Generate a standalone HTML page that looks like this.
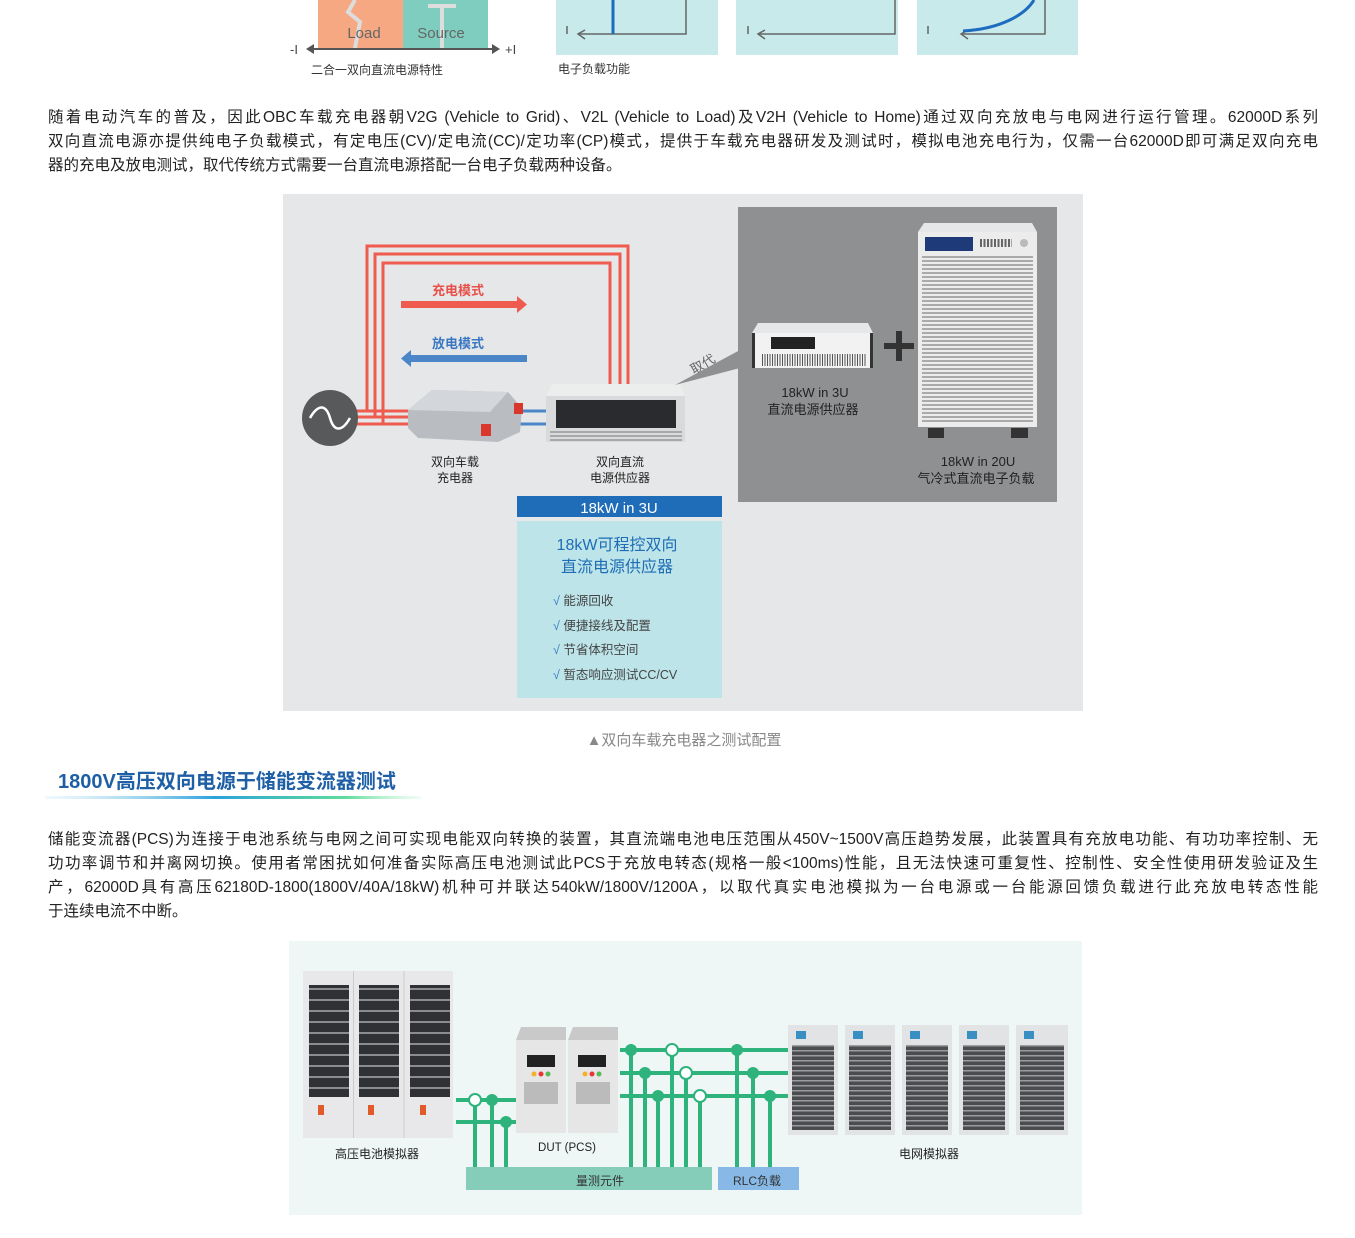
<!DOCTYPE html>
<html><head><meta charset="utf-8"><style>
body{margin:0;width:1355px;height:1238px;background:#fff;position:relative;overflow:hidden;font-family:"Liberation Sans","Noto Sans CJK SC",sans-serif;}
.a{position:absolute;}
.ln{position:absolute;left:48px;width:1270px;font-size:15.5px;color:#222;text-align:justify;text-align-last:justify;white-space:nowrap;line-height:24px;}
.ln.l{text-align-last:left;}
svg text{font-family:"Liberation Sans","Noto Sans CJK SC",sans-serif;}
</style></head><body>
<svg class="a" style="left:0;top:0" width="1355" height="1238">
<defs>
<pattern id="hs" width="4" height="4" patternUnits="userSpaceOnUse"><rect width="4" height="2" fill="#aaa"/></pattern>
<pattern id="hs2" width="5" height="5" patternUnits="userSpaceOnUse"><rect width="5" height="5" fill="#4a4c50"/><rect width="5" height="1.5" fill="#9a9c9f"/></pattern>
<pattern id="bat" width="10" height="11" patternUnits="userSpaceOnUse"><rect width="10" height="11" fill="#2f3135"/><rect y="9" width="10" height="2" fill="#8a8c90"/></pattern>
<linearGradient id="g" x1="0" x2="1"><stop offset="0" stop-color="#cfe9f7" stop-opacity="0.3"/><stop offset="0.45" stop-color="#2aa3dc"/><stop offset="0.8" stop-color="#5fdc9a"/><stop offset="1" stop-color="#c8f5d8" stop-opacity="0.3"/></linearGradient>
</defs>
<rect x="318" y="0" width="85" height="48" fill="#f6a882"/>
<rect x="403" y="0" width="85" height="48" fill="#7fcdbf"/>
<polyline points="355,0 348,12 360,22 355,48" fill="none" stroke="#ddd" stroke-width="4"/>
<line x1="428" y1="6" x2="456" y2="6" stroke="#ddd" stroke-width="4"/>
<line x1="442" y1="6" x2="442" y2="48" stroke="#ddd" stroke-width="4"/>
<text x="364" y="38" font-size="15" fill="#666" text-anchor="middle">Load</text>
<text x="441" y="38" font-size="15" fill="#666" text-anchor="middle">Source</text>
<line x1="308" y1="49" x2="496" y2="49" stroke="#555" stroke-width="2"/>
<path d="M306,49 l8,-5 v10z M500,49 l-8,-5 v10z" fill="#555"/>
<text x="290" y="54" font-size="13" fill="#444" font-family="Liberation Serif">-I</text>
<text x="505" y="54" font-size="13" fill="#444" font-family="Liberation Serif">+I</text>
<text x="311" y="74" font-size="12" fill="#333">二合一双向直流电源特性</text>
<rect x="556" y="0" width="162" height="55" fill="#c8eaea"/>
<rect x="736" y="0" width="162" height="55" fill="#c8eaea"/>
<rect x="917" y="0" width="161" height="55" fill="#c8eaea"/>
<g fill="none" stroke="#666" stroke-width="1.5">
<polyline points="578,34 686,34 686,0"/><polyline points="585,30 578,34 585,39"/><line x1="567" y1="26" x2="567" y2="34"/>
<polyline points="758,34 895,34 895,0"/><polyline points="765,30 758,34 765,39"/><line x1="748" y1="26" x2="748" y2="34"/>
<polyline points="961,34 1045,34 1045,0"/><polyline points="968,30 961,34 968,39"/><line x1="928" y1="26" x2="928" y2="34"/>
</g>
<line x1="613" y1="0" x2="613" y2="34" stroke="#1e6cc0" stroke-width="3"/>
<path d="M963,31 C1000,29 1025,15 1034,0" fill="none" stroke="#1e6cc0" stroke-width="3"/>
<text x="558" y="73" font-size="12" fill="#333">电子负载功能</text>

<rect x="283" y="194" width="800" height="517" fill="#e6e7e8"/>
<rect x="738" y="207" width="319" height="295" fill="#8f9092"/>
<g fill="none" stroke="#ef5b4f" stroke-width="3">
<polyline points="358,411 367,411 367,246 628,246 628,386"/>
<polyline points="358,417 375,417 375,254 620,254 620,386"/>
<polyline points="358,424 383,424 383,263 610,263 610,386"/>
<line x1="355" y1="411" x2="410" y2="411"/><line x1="355" y1="417" x2="410" y2="417"/><line x1="355" y1="424" x2="410" y2="424"/>
</g>
<line x1="515" y1="411" x2="548" y2="411" stroke="#4a86c8" stroke-width="3"/>
<line x1="515" y1="424" x2="548" y2="424" stroke="#4a86c8" stroke-width="3"/>
<circle cx="330" cy="418" r="28" fill="#58595b"/>
<path d="M310,418 C318,404 326,404 330,418 C334,432 342,432 350,418" fill="none" stroke="#fff" stroke-width="2.5"/>
<text x="458" y="295" font-size="13" fill="#e8504a" text-anchor="middle" font-weight="bold">充电模式</text>
<rect x="401" y="301" width="118" height="7" fill="#ef5b4f"/><path d="M517,296 l10,8.5 l-10,8.5z" fill="#ef5b4f"/>
<text x="458" y="348" font-size="13" fill="#3a78c2" text-anchor="middle" font-weight="bold">放电模式</text>
<rect x="410" y="355" width="117" height="7" fill="#4a86c8"/><path d="M411,350 l-10,8.5 l10,8.5z" fill="#4a86c8"/>
<path d="M408,410 L432,390 L508,392 L522,408 L520,432 L498,442 L418,438 L408,428z" fill="#b9bdc2"/>
<path d="M408,410 L432,390 L508,392 L490,412z" fill="#d3d6da"/>
<rect x="514" y="403" width="9" height="11" fill="#d9372c"/><rect x="481" y="424" width="10" height="12" fill="#d9372c"/>
<path d="M552,384 L680,384 L685,396 L546,396z" fill="#eceded"/>
<rect x="546" y="396" width="139" height="46" fill="#d9dadb"/>
<rect x="556" y="400" width="120" height="28" fill="#2a2b2e"/>
<g stroke="#777" stroke-width="1"><line x1="550" y1="432" x2="682" y2="432"/><line x1="550" y1="436" x2="682" y2="436"/><line x1="550" y1="440" x2="682" y2="440"/></g>
<text x="455" y="466" font-size="12" fill="#222" text-anchor="middle">双向车载</text>
<text x="455" y="482" font-size="12" fill="#222" text-anchor="middle">充电器</text>
<text x="620" y="466" font-size="12" fill="#222" text-anchor="middle">双向直流</text>
<text x="620" y="482" font-size="12" fill="#222" text-anchor="middle">电源供应器</text>
<path d="M675,385 L740,350 L740,368z" fill="#8f9092"/>
<text x="705" y="368" font-size="13" fill="#666" transform="rotate(-30 705 368)" text-anchor="middle">取代</text>
<path d="M758,323 L868,323 L873,333 L752,333z" fill="#e6e7e8"/>
<rect x="752" y="333" width="121" height="35" fill="#f2f2f2"/>
<rect x="771" y="337" width="44" height="12" fill="#222"/>
<line x1="762" y1="360" x2="866" y2="360" stroke="#555" stroke-width="12" stroke-dasharray="1,1.5"/>
<rect x="752" y="333" width="3" height="35" fill="#333"/><rect x="870" y="333" width="3" height="35" fill="#333"/>
<rect x="884" y="343" width="30" height="6" fill="#333"/><rect x="896" y="331" width="6" height="30" fill="#333"/>
<text x="815" y="397" font-size="13" fill="#222" text-anchor="middle">18kW in 3U</text>
<text x="813" y="414" font-size="13" fill="#222" text-anchor="middle">直流电源供应器</text>
<path d="M924,223 L1032,223 L1037,232 L918,232z" fill="#e6e7e8"/>
<rect x="918" y="232" width="119" height="195" fill="#ececec"/>
<rect x="922" y="256" width="111" height="168" fill="url(#hs)"/>
<rect x="925" y="237" width="48" height="14" fill="#1e3a78"/>
<line x1="980" y1="243" x2="1012" y2="243" stroke="#666" stroke-width="8" stroke-dasharray="2,1.5"/>
<circle cx="1024" cy="243" r="4" fill="#bbb"/>
<rect x="928" y="428" width="16" height="10" fill="#333"/><rect x="1011" y="428" width="17" height="10" fill="#333"/>
<text x="978" y="466" font-size="13" fill="#222" text-anchor="middle">18kW in 20U</text>
<text x="976" y="483" font-size="13" fill="#222" text-anchor="middle">气冷式直流电子负载</text>
<rect x="517" y="496" width="205" height="21" fill="#1f6cb8"/>
<text x="619" y="513" font-size="15" fill="#fff" text-anchor="middle">18kW in 3U</text>
<rect x="517" y="521" width="205" height="177" fill="#bde4e9"/>
<text x="617" y="550" font-size="16" fill="#1e6db5" text-anchor="middle">18kW可程控双向</text>
<text x="617" y="572" font-size="16" fill="#1e6db5" text-anchor="middle">直流电源供应器</text>
<g font-size="12.5" fill="#444">
<text x="553" y="605"><tspan fill="#3a7cc0">√</tspan> 能源回收</text>
<text x="553" y="630"><tspan fill="#3a7cc0">√</tspan> 便捷接线及配置</text>
<text x="553" y="654"><tspan fill="#3a7cc0">√</tspan> 节省体积空间</text>
<text x="553" y="679"><tspan fill="#3a7cc0">√</tspan> 暂态响应测试CC/CV</text>
</g>
<text x="684" y="745" font-size="15" fill="#888" text-anchor="middle">▲双向车载充电器之测试配置</text>
<text x="58" y="788" font-size="20" font-weight="bold" fill="#1e5fa6">1800V高压双向电源于储能变流器测试</text>
<rect x="45" y="796" width="376" height="3" fill="url(#g)"/>

<rect x="289" y="941" width="793" height="274" fill="#eef7f6"/>
<rect x="303" y="971" width="150" height="167" fill="#e8e8ea"/>
<rect x="309" y="985" width="40" height="112" fill="url(#bat)"/><rect x="359" y="985" width="40" height="112" fill="url(#bat)"/><rect x="410" y="985" width="40" height="112" fill="url(#bat)"/>
<g stroke="#ccc" stroke-width="1"><line x1="353.5" y1="971" x2="353.5" y2="1138"/><line x1="404" y1="971" x2="404" y2="1138"/></g>
<rect x="318" y="1105" width="6" height="10" fill="#e05a2a"/><rect x="368" y="1105" width="6" height="10" fill="#e05a2a"/><rect x="420" y="1105" width="6" height="10" fill="#e05a2a"/>
<rect x="516" y="1040" width="50" height="93" fill="#e6e6e6"/><rect x="568" y="1040" width="50" height="93" fill="#e6e6e6"/>
<path d="M521,1027h45v13h-50z M573,1027h45v13h-50z" fill="#c9c9c9"/>
<rect x="527" y="1055" width="28" height="12" fill="#222"/><rect x="578" y="1055" width="28" height="12" fill="#222"/>
<circle cx="534" cy="1074" r="2.5" fill="#f3b12a"/><circle cx="541" cy="1074" r="2.5" fill="#e33"/><circle cx="548" cy="1074" r="2.5" fill="#5b5"/>
<circle cx="585" cy="1074" r="2.5" fill="#f3b12a"/><circle cx="592" cy="1074" r="2.5" fill="#e33"/><circle cx="599" cy="1074" r="2.5" fill="#5b5"/>
<rect x="524" y="1082" width="34" height="22" fill="#bbb"/><rect x="576" y="1082" width="34" height="22" fill="#bbb"/>
<g fill="#e2e3e5"><rect x="788" y="1025" width="50" height="110"/><rect x="845" y="1025" width="50" height="110"/><rect x="902" y="1025" width="50" height="110"/><rect x="959" y="1025" width="50" height="110"/><rect x="1016" y="1025" width="52" height="110"/></g>
<g fill="url(#hs2)"><rect x="792" y="1045" width="42" height="85"/><rect x="849" y="1045" width="42" height="85"/><rect x="906" y="1045" width="42" height="85"/><rect x="963" y="1045" width="42" height="85"/><rect x="1020" y="1045" width="44" height="85"/></g>
<g fill="#3a8fc2"><rect x="796" y="1031" width="10" height="8"/><rect x="853" y="1031" width="10" height="8"/><rect x="910" y="1031" width="10" height="8"/><rect x="967" y="1031" width="10" height="8"/><rect x="1024" y="1031" width="10" height="8"/></g>
<g stroke="#2db37b" stroke-width="4" fill="none">
<line x1="456" y1="1100" x2="516" y2="1100"/><line x1="456" y1="1122" x2="516" y2="1122"/>
<line x1="475" y1="1100" x2="475" y2="1168"/><line x1="492" y1="1100" x2="492" y2="1168"/><line x1="506" y1="1122" x2="506" y2="1168"/>
<line x1="620" y1="1050" x2="788" y2="1050"/><line x1="620" y1="1073" x2="788" y2="1073"/><line x1="620" y1="1096" x2="788" y2="1096"/>
<line x1="631" y1="1050" x2="631" y2="1168"/><line x1="645" y1="1073" x2="645" y2="1168"/><line x1="658" y1="1096" x2="658" y2="1168"/>
<line x1="672" y1="1050" x2="672" y2="1168"/><line x1="686" y1="1073" x2="686" y2="1168"/><line x1="700" y1="1096" x2="700" y2="1168"/>
<line x1="737" y1="1050" x2="737" y2="1168"/><line x1="753" y1="1073" x2="753" y2="1168"/><line x1="770" y1="1096" x2="770" y2="1168"/>
</g>
<g fill="#2db37b"><circle cx="492" cy="1100" r="6"/><circle cx="506" cy="1122" r="6"/><circle cx="631" cy="1050" r="6"/><circle cx="645" cy="1073" r="6"/><circle cx="658" cy="1096" r="6"/><circle cx="737" cy="1050" r="6"/><circle cx="753" cy="1073" r="6"/><circle cx="770" cy="1096" r="6"/></g>
<g fill="#fff" stroke="#2db37b" stroke-width="2"><circle cx="475" cy="1100" r="6"/><circle cx="672" cy="1050" r="6"/><circle cx="686" cy="1073" r="6"/><circle cx="700" cy="1096" r="6"/></g>
<rect x="466" y="1167" width="246" height="23" fill="#85cdb9"/>
<rect x="718" y="1167" width="81" height="23" fill="#88b8e6"/>
<text x="600" y="1185" font-size="12" fill="#333" text-anchor="middle">量测元件</text>
<text x="757" y="1185" font-size="12" fill="#333" text-anchor="middle">RLC负载</text>
<text x="377" y="1158" font-size="12" fill="#222" text-anchor="middle">高压电池模拟器</text>
<text x="567" y="1151" font-size="11.5" fill="#222" text-anchor="middle">DUT (PCS)</text>
<text x="929" y="1158" font-size="12" fill="#222" text-anchor="middle">电网模拟器</text>
</svg>
<div class="ln" style="top:106px">随着电动汽车的普及，因此OBC车载充电器朝V2G (Vehicle to Grid)、V2L (Vehicle to Load)及V2H (Vehicle to Home)通过双向充放电与电网进行运行管理。62000D系列</div>
<div class="ln" style="top:130px">双向直流电源亦提供纯电子负载模式，有定电压(CV)/定电流(CC)/定功率(CP)模式，提供于车载充电器研发及测试时，模拟电池充电行为，仅需一台62000D即可满足双向充电</div>
<div class="ln l" style="top:154px">器的充电及放电测试，取代传统方式需要一台直流电源搭配一台电子负载两种设备。</div>
<div class="ln" style="top:828px">储能变流器(PCS)为连接于电池系统与电网之间可实现电能双向转换的装置，其直流端电池电压范围从450V~1500V高压趋势发展，此装置具有充放电功能、有功功率控制、无</div>
<div class="ln" style="top:852px">功功率调节和并离网切换。使用者常困扰如何准备实际高压电池测试此PCS于充放电转态(规格一般&lt;100ms)性能，且无法快速可重复性、控制性、安全性使用研发验证及生</div>
<div class="ln" style="top:876px">产，62000D具有高压62180D-1800(1800V/40A/18kW)机种可并联达540kW/1800V/1200A，以取代真实电池模拟为一台电源或一台能源回馈负载进行此充放电转态性能</div>
<div class="ln l" style="top:900px">于连续电流不中断。</div>
</body></html>
